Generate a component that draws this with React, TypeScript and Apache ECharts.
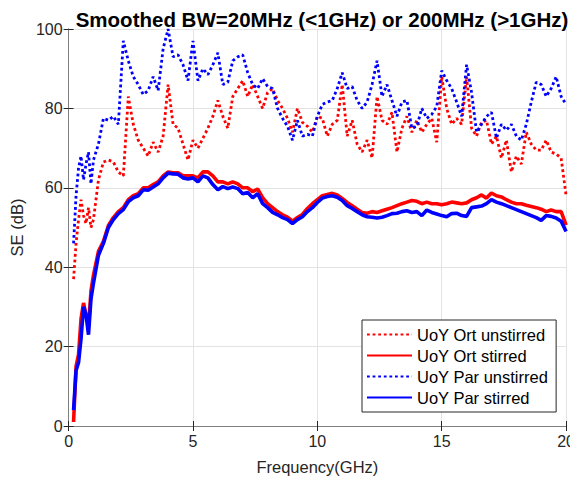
import React, { useEffect, useRef } from "react";
import * as echarts from "echarts";

const freq = [
  0.2, 0.3, 0.4, 0.5, 0.6, 0.7, 0.8, 0.9, 1.0,
  1.2, 1.4, 1.6, 1.8, 2.0, 2.2, 2.4, 2.6, 2.8, 3.0,
  3.2, 3.4, 3.6, 3.8, 4.0, 4.2, 4.4, 4.6, 4.8, 5.0,
  5.2, 5.4, 5.6, 5.8, 6.0, 6.2, 6.4, 6.6, 6.8, 7.0,
  7.2, 7.4, 7.6, 7.8, 8.0, 8.2, 8.4, 8.6, 8.8, 9.0,
  9.2, 9.4, 9.6, 9.8, 10.0, 10.2, 10.4, 10.6, 10.8, 11.0,
  11.2, 11.4, 11.6, 11.8, 12.0, 12.2, 12.4, 12.6, 12.8, 13.0,
  13.2, 13.4, 13.6, 13.8, 14.0, 14.2, 14.4, 14.6, 14.8, 15.0,
  15.2, 15.4, 15.6, 15.8, 16.0, 16.2, 16.4, 16.6, 16.8, 17.0,
  17.2, 17.4, 17.6, 17.8, 18.0, 18.2, 18.4, 18.6, 18.8, 19.0,
  19.2, 19.4, 19.6, 19.8, 20.0,
];

const ortUnstirred = [
  37, 46, 52, 57, 53, 51, 55, 50, 52,
  62, 66.5, 67, 66.5, 64, 63, 83, 76, 72, 70,
  68, 71.5, 69, 73, 86, 76, 75, 71, 67, 72,
  70, 72.5, 75, 78, 82, 78, 75, 83, 85, 87,
  83, 86, 83, 80, 84, 85, 82, 80, 77.5, 74,
  80, 76.5, 75.5, 74, 78, 77.5, 73, 76, 77, 86,
  73, 77, 71, 69, 72, 67.5, 83, 77, 76, 79,
  69, 75, 78, 74, 77, 74, 76, 77.5, 71.5, 88,
  80, 76, 77.5, 76, 88, 75, 73, 76.5, 77, 71,
  73, 67.5, 72, 64, 68, 66, 74, 71, 69.5, 69.5,
  72, 69, 68.5, 67.5, 58,
];

const ortStirred = [
  1, 15, 18, 27, 31, 28, 25, 34, 38,
  44, 46.5, 50.5, 52.5, 54, 55, 57, 58, 58.5, 60,
  60, 60.8, 61.5, 63, 64, 63.8, 63.8, 63, 63, 63,
  62.5, 64, 64, 63, 61.5, 61.5, 61, 61.5, 61, 60,
  60, 59, 59.7, 57.5, 56, 55, 54, 53.2, 52.6, 51.6,
  52.5, 53.3, 54.8, 56, 57, 58, 58.3, 58.6, 58.2, 57.3,
  56.3, 55.5, 54.6, 53.8, 53.6, 54, 53.8, 54.2, 54.6, 55,
  55.5, 56, 56.4, 56.8, 56.6, 56, 56.4, 56, 56, 55.7,
  56, 56.4, 56.2, 56, 56.2, 57, 57.5, 58.2, 57.4, 58.7,
  58, 57.7, 57, 56.4, 56, 56, 55.6, 55.3, 55, 54.6,
  54, 54.4, 54, 54, 50.6,
];

const parUnstirred = [
  46, 58, 65, 68, 62, 66, 69, 61, 67,
  71, 77.5, 77, 78, 76, 97, 92, 88, 86, 83.5,
  84.5, 88, 84.5, 95, 100, 93, 93.5, 91, 87, 97,
  87, 90, 88.5, 91, 94, 86, 86.6, 92, 93, 93.5,
  89, 86, 85, 87.5, 85.5, 85, 80, 77.5, 75.5, 72,
  77, 73, 73.5, 73, 78, 81, 81.6, 82, 85, 89,
  85, 85.5, 82, 80, 81.6, 86, 92, 83, 86, 82,
  78, 81.6, 82, 75, 75.5, 80, 77.5, 78.5, 80.5, 89.5,
  87, 85, 81.6, 78, 91, 84, 74, 76, 78, 79,
  72.5, 76, 74.5, 76, 73, 72, 76, 81.6, 86.6, 86,
  83, 85, 88, 83, 81,
];

const parStirred = [
  4, 14, 16, 22, 30, 28, 23, 32, 36,
  43, 46, 50, 52, 53.5, 54.5, 56.5, 57.5, 58, 59.5,
  59.4, 60.2, 61, 62.5, 63.7, 63.5, 63.4, 62.5, 62.2, 62.5,
  61.5, 63, 62.5, 60.8, 59.5, 60.3, 59.8, 60.2, 59.8, 58.5,
  58.8, 57.5, 58.5, 56, 55, 53.8, 53.2, 52.5, 52, 51,
  52, 52.7, 54, 55, 56.3, 57.4, 57.8, 58, 57.6, 56.8,
  55.5, 54.8, 54, 53.2, 52.7, 52.6, 52.4, 52.6, 53, 53.5,
  53.6, 54, 54.2, 53.8, 54, 53, 54.4, 53.8, 53.4, 53,
  52.7, 53.5, 53.6, 53, 52.8, 55, 55.2, 55.4, 56, 57,
  56.4, 56, 55.5, 55, 54.5, 54, 53.5, 53, 52.5, 51.8,
  53, 52.8, 52.4, 51.6, 49,
];

const seriesNames = ["UoY Ort unstirred", "UoY Ort stirred", "UoY Par unstirred", "UoY Par stirred"];
const xTicks = [0, 5, 10, 15, 20];
const yTicks = [0, 20, 40, 60, 80, 100];

const FONT = "'Liberation Sans', Arial, Helvetica, sans-serif";

export default function App() {
  const ref = useRef<HTMLDivElement>(null);
  useEffect(() => {
    if (!ref.current) return;
    const chart = echarts.init(ref.current, undefined, { renderer: "svg" });
    const pair = (ys: number[]) => freq.map((f, i) => [f, ys[i]]);
    const mk = (name: string, ys: number[], color: string, dotted: boolean, z: number) => ({
      name,
      type: "line",
      data: pair(ys),
      showSymbol: false,
      symbol: "none",
      z,
      lineStyle: {
        color,
        width: dotted ? 2.8 : 3.6,
        type: dotted ? [2.8, 2.8] : "solid",
        cap: "butt",
      },
      itemStyle: { color },
      clip: true,
    });
    const axisLineColor = "#7f7f7f";
    chart.setOption({
      animation: false,
      backgroundColor: "#ffffff",
      title: {
        text: "Smoothed BW=20MHz (<1GHz) or 200MHz (>1GHz)",
        left: 317,
        textAlign: "center",
        top: 4,
        textStyle: { fontFamily: FONT, fontSize: 20.5, fontWeight: "bold", color: "#000" },
      },
      grid: { left: 63, right: 11, top: 29, bottom: 54, containLabel: false },
      legend: {
        orient: "vertical",
        left: 362,
        top: 320,
        itemWidth: 45,
        itemHeight: 12,
        itemGap: 4,
        padding: [6, 8, 6, 4],
        borderColor: "#262626",
        borderWidth: 1,
        borderRadius: 0,
        backgroundColor: "#ffffff",
        itemStyle: { color: "rgba(0,0,0,0)", borderColor: "rgba(0,0,0,0)", borderWidth: 0, opacity: 0 },
        textStyle: { fontFamily: FONT, fontSize: 16.5, color: "#000", padding: [0, 0, 0, 0] },
        data: seriesNames,
      },
      xAxis: [
        {
          type: "value",
          min: 0,
          max: 20,
          interval: 5,
          name: "Frequency(GHz)",
          nameLocation: "middle",
          nameGap: 32,
          nameTextStyle: { fontFamily: FONT, fontSize: 16.5, color: "#262626" },
          axisLine: { show: true, lineStyle: { color: axisLineColor, width: 1 } },
          axisTick: { show: true, inside: true, length: 5, lineStyle: { color: "#262626" } },
          axisLabel: {
            fontFamily: FONT,
            fontSize: 16,
            color: "#262626",
            margin: 7,
            formatter: (v: number) => (xTicks.includes(v) ? String(v) : ""),
          },
          splitLine: { show: true, lineStyle: { color: "#e3e3e3", width: 1 } },
        },
        {
          type: "value",
          position: "top",
          min: 0,
          max: 20,
          interval: 5,
          axisLine: { show: true, lineStyle: { color: axisLineColor, width: 1 } },
          axisTick: { show: true, inside: true, length: 5, lineStyle: { color: "#262626" } },
          axisLabel: { show: false },
          splitLine: { show: false },
        },
      ],
      yAxis: [
        {
          type: "value",
          min: 0,
          max: 100,
          interval: 20,
          name: "SE (dB)",
          nameLocation: "middle",
          nameGap: 38,
          nameTextStyle: { fontFamily: FONT, fontSize: 16.5, color: "#262626" },
          axisLine: { show: true, lineStyle: { color: axisLineColor, width: 1 } },
          axisTick: { show: true, inside: true, length: 5, lineStyle: { color: "#262626" } },
          axisLabel: {
            fontFamily: FONT,
            fontSize: 16,
            color: "#262626",
            margin: 6,
            formatter: (v: number) => (yTicks.includes(v) ? String(v) : ""),
          },
          splitLine: { show: true, lineStyle: { color: "#e3e3e3", width: 1 } },
        },
        {
          type: "value",
          position: "right",
          min: 0,
          max: 100,
          interval: 20,
          axisLine: { show: true, lineStyle: { color: axisLineColor, width: 1 } },
          axisTick: { show: true, inside: true, length: 5, lineStyle: { color: "#262626" } },
          axisLabel: { show: false },
          splitLine: { show: false },
        },
      ],
      series: [
        mk(seriesNames[0], ortUnstirred, "#ff0000", true, 2),
        mk(seriesNames[1], ortStirred, "#ff0000", false, 3),
        mk(seriesNames[2], parUnstirred, "#0000ff", true, 4),
        mk(seriesNames[3], parStirred, "#0000ff", false, 5),
      ],
    });
    return () => chart.dispose();
  }, []);
  return <div ref={ref} style={{ width: 578, height: 480, marginLeft: -8, marginTop: -8 }} />;
}
